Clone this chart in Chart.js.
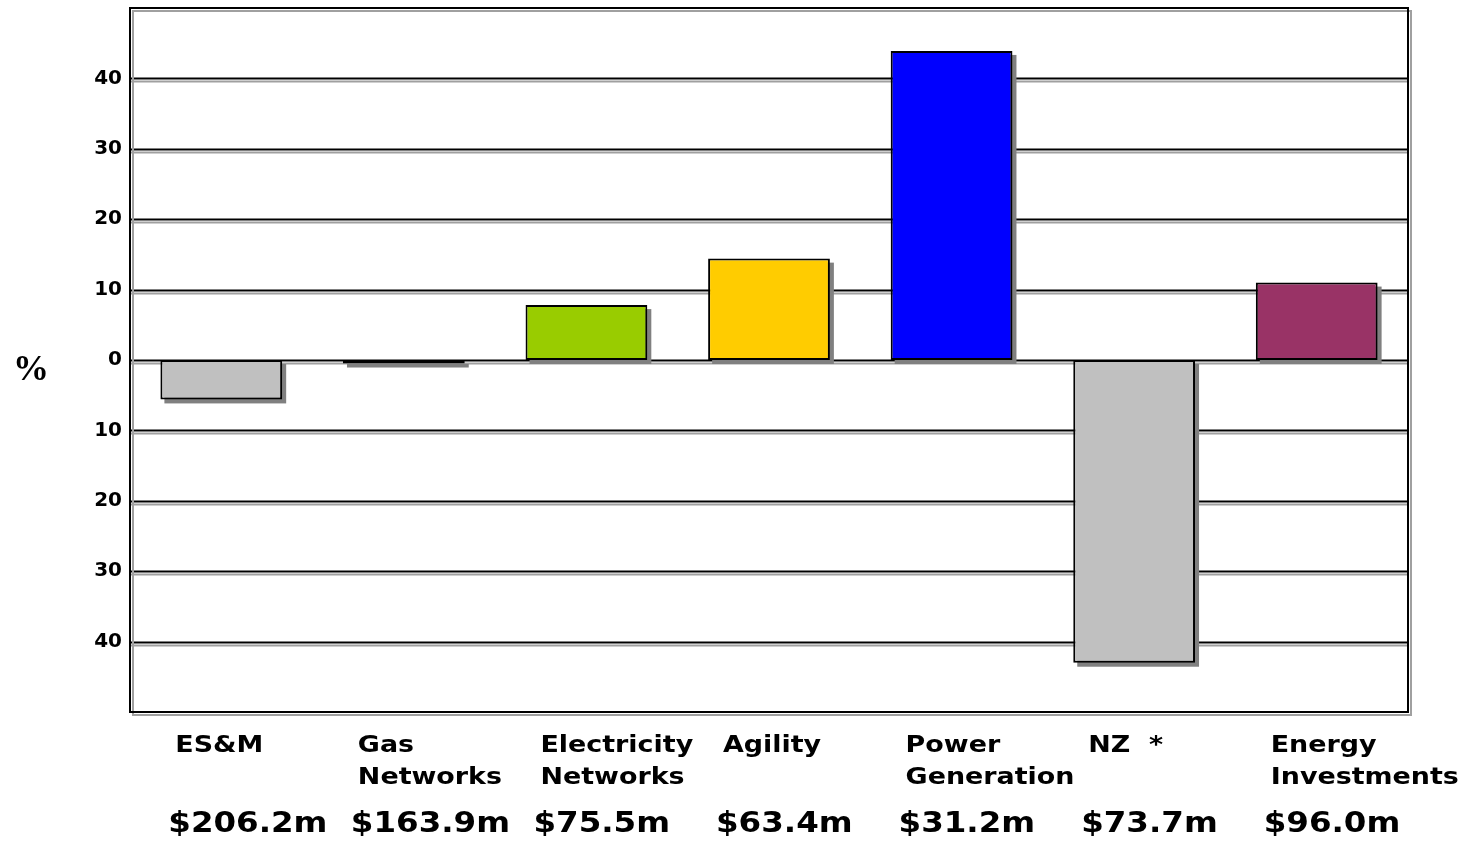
<!DOCTYPE html>
<html>
<head>
<meta charset="utf-8">
<script src="https://cdn.jsdelivr.net/npm/chart.js@4/dist/chart.umd.min.js"></script>
<style>
  html, body { margin: 0; padding: 0; background: #fff; }
  #wrap { width: 1472px; height: 842px; position: relative; }
</style>
</head>
<body>
<div id="wrap"><canvas id="c"></canvas></div>
<script>
// ---- data ----
const categories = [
  ['ES&M'],
  ['Gas', 'Networks'],
  ['Electricity', 'Networks'],
  ['Agility'],
  ['Power', 'Generation'],
  ['NZ  *'],
  ['Energy', 'Investments']
];
const changePct = [-5.6, -0.5, 7.8, 14.4, 43.9, -43.0, 11.0];
const earnings = ['$206.2m', '$163.9m', '$75.5m', '$63.4m', '$31.2m', '$73.7m', '$96.0m'];
const barColors = ['#C0C0C0', '#C0C0C0', '#99CC00', '#FFCC00', '#0000FF', '#C0C0C0', '#993366'];
const yMin = -50, yMax = 50, yStep = 10;

const framePlugin = {
  id: 'frame',
  beforeDatasetsDraw(chart) {
    const ctx = chart.ctx, a = chart.chartArea, y = chart.scales.y;
    ctx.save();
    // gridlines (black with gray shadow line)
    y.ticks.forEach(t => {
      if (t.value <= yMin || t.value >= yMax) return;
      const py = Math.round(y.getPixelForValue(t.value)) + 0.5;
      ctx.strokeStyle = '#A0A0A0'; ctx.lineWidth = 2;
      ctx.beginPath(); ctx.moveTo(a.left, py + 3); ctx.lineTo(a.right, py + 3); ctx.stroke();
      ctx.strokeStyle = '#000'; ctx.lineWidth = 2;
      ctx.beginPath(); ctx.moveTo(a.left, py); ctx.lineTo(a.right, py); ctx.stroke();
    });
    // frame with gray offset
    ctx.strokeStyle = '#A0A0A0'; ctx.lineWidth = 2;
    ctx.strokeRect(a.left + 3, a.top + 3, a.right - a.left, a.bottom - a.top);
    ctx.strokeStyle = '#000'; ctx.lineWidth = 2;
    ctx.strokeRect(a.left, a.top, a.right - a.left, a.bottom - a.top);
    // bar shadows
    const meta = chart.getDatasetMeta(0);
    ctx.fillStyle = '#808080';
    meta.data.forEach(b => {
      const p = b.getProps(['x', 'y', 'base', 'width'], true);
      const left = p.x - p.width / 2;
      const top = Math.min(p.y, p.base);
      const h = Math.abs(p.base - p.y);
      ctx.fillRect(left + 4, top + 4, p.width, h);
    });
    ctx.restore();
  },
  afterDraw(chart) {
    const ctx = chart.ctx, x = chart.scales.x, y = chart.scales.y;
    ctx.save();
    ctx.fillStyle = '#000';
    ctx.textBaseline = 'alphabetic';
    ctx.textAlign = 'left';
    const drawStretched = (text, px, py, font, sx) => {
      ctx.save();
      ctx.font = font;
      ctx.translate(px, py);
      ctx.scale(sx, 1);
      ctx.fillText(text, 0, 0);
      ctx.restore();
    };
    categories.forEach((lines, i) => {
      const cx = x.getPixelForValue(i);
      lines.forEach((ln, j) => {
        drawStretched(ln, cx - 46, 752 + j * 32, 'bold 23px "DejaVu Sans"', 1.17);
      });
      drawStretched(earnings[i], cx - 53, 832, 'bold 28px "DejaVu Sans"', 1.16);
    });
    // % axis label
    ctx.font = 'bold 36px "Liberation Serif"';
    ctx.textAlign = 'center';
    ctx.textBaseline = 'middle';
    ctx.fillText('%', 31, y.getPixelForValue(0) + 11);
    ctx.restore();
  }
};

new Chart(document.getElementById('c'), {
  type: 'bar',
  data: {
    labels: categories,
    datasets: [{
      data: changePct,
      backgroundColor: barColors,
      borderColor: '#000',
      borderWidth: 2,
      borderSkipped: false,
      barPercentage: 0.667,
      categoryPercentage: 1.0
    }]
  },
  options: {
    responsive: true,
    maintainAspectRatio: false,
    animation: false,
    layout: { padding: { left: 0, top: 8, right: 64, bottom: 0 } },
    plugins: { legend: { display: false }, tooltip: { enabled: false } },
    scales: {
      x: {
        grid: { display: false },
        border: { display: false },
        ticks: { display: false },
        afterFit(s) { s.height = 130; s.paddingLeft = 0; s.paddingRight = 0; }
      },
      y: {
        min: yMin, max: yMax,
        grid: { display: false, drawTicks: false },
        border: { display: false },
        ticks: {
          stepSize: yStep,
          padding: 8,
          color: '#000',
          font: { family: '"DejaVu Sans"', weight: 'bold', size: 20 },
          callback: v => (Math.abs(v) >= 50 ? '' : String(Math.abs(v)))
        },
        afterFit(s) { s.width = 130; s.paddingTop = 0; s.paddingBottom = 0; }
      }
    }
  },
  plugins: [framePlugin]
});
</script>
</body>
</html>
